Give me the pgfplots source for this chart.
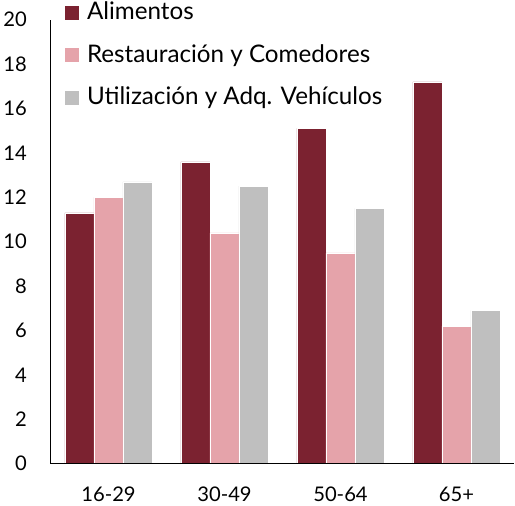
\documentclass[border=0pt]{standalone}
\usepackage{fontspec}
\setmainfont{Lato}
\usepackage{pgfplots}
\pgfplotsset{compat=1.18}
\definecolor{cA}{HTML}{7B2230}
\definecolor{cB}{HTML}{E5A3AA}
\definecolor{cC}{HTML}{BFBFBF}
\begin{document}
\begin{tikzpicture}
\begin{axis}[
  scale only axis,
  width=460pt, height=440pt,
  ymin=0, ymax=20,
  xmin=-0.5, xmax=3.5,
  ytick={0,2,...,20},
  xtick=data,
  xticklabels={16-29,30-49,50-64,65+},
  axis x line*=bottom,
  axis y line*=left,
  axis line style={line width=1pt,-},
  axis on top,
  major tick length=0pt,
  ybar=0pt,
  bar width=0.25,
  tick label style={font=\fontsize{20}{24}\selectfont},
  /pgf/number format/assume math mode=true,
  yticklabel style={xshift=-20pt},
  xticklabel style={yshift=-20pt},
  legend style={at={(0.03,1.045)}, anchor=north west, draw=none, fill=none,
    font=\fontsize{24}{28}\selectfont, row sep=19pt,
    cells={anchor=west}, inner sep=0pt},
  legend image code/.code={\fill[#1,draw=none] (0pt,-8pt) rectangle (14pt,6pt); \path (20pt,0pt);},
]
\addplot[fill=cA, draw=white, line width=0.4pt] coordinates {(0,11.3) (1,13.6) (2,15.1) (3,17.2)};
\addplot[fill=cB, draw=white, line width=0.4pt] coordinates {(0,12.0) (1,10.4) (2,9.5) (3,6.2)};
\addplot[fill=cC, draw=white, line width=0.4pt] coordinates {(0,12.7) (1,12.5) (2,11.5) (3,6.9)};
\legend{Alimentos, Restauración y Comedores, Utilización y Adq. Vehículos}
\end{axis}
\end{tikzpicture}
\end{document}
